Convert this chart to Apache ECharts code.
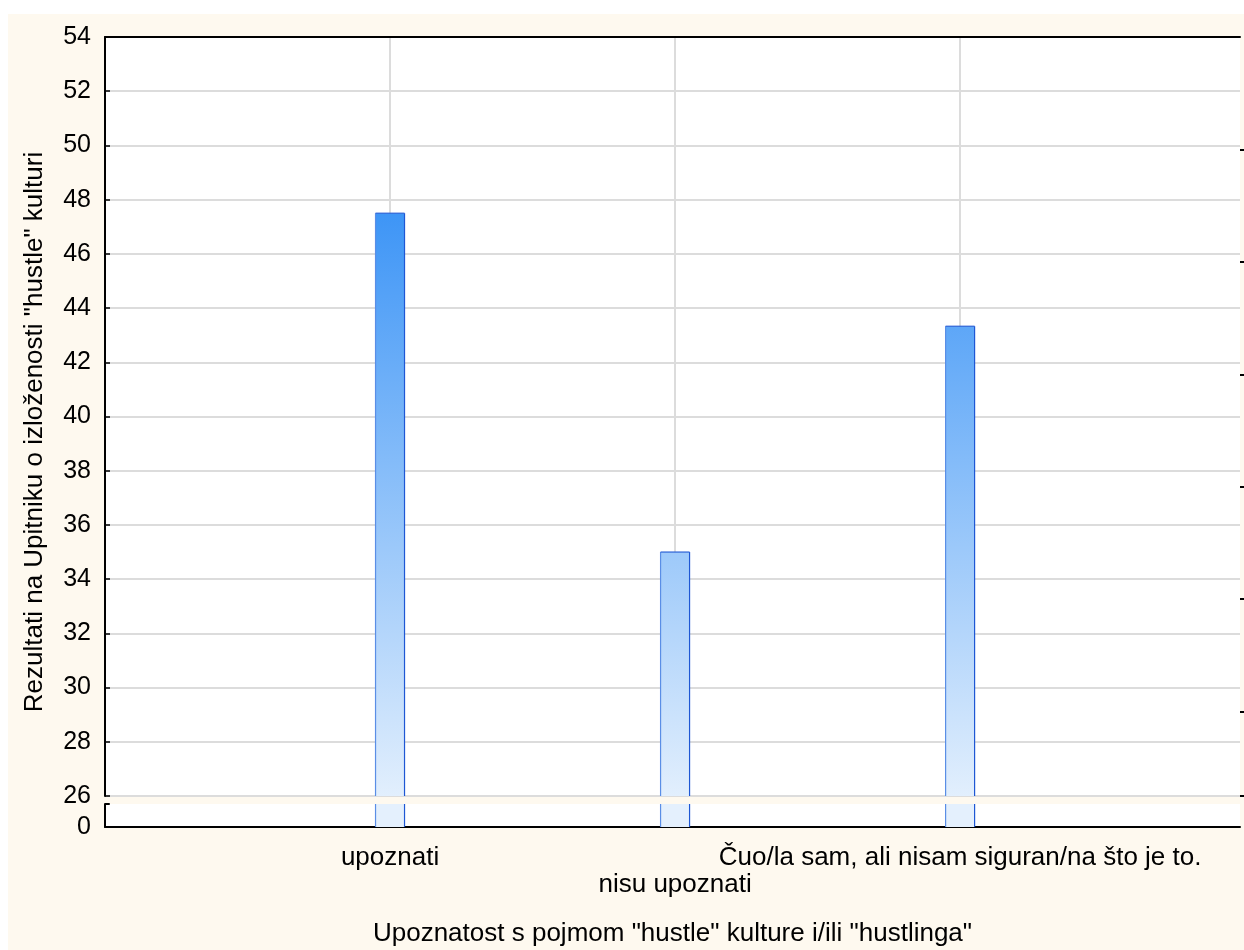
<!DOCTYPE html>
<html><head><meta charset="utf-8">
<script src="https://cdn.jsdelivr.net/npm/echarts@6/dist/echarts.min.js"></script>
<style>
html,body{margin:0;padding:0;background:#fff;width:1244px;height:950px;overflow:hidden;}
#chart{position:absolute;left:8px;top:14px;width:1236px;height:936px;}
</style></head><body><div id="chart"></div>
<script>
// ---- data ----
const categories = ['upoznati', 'nisu upoznati', 'Čuo/la sam, ali nisam siguran/na što je to.'];
const values = [47.5, 35.0, 43.33];
const upperMin = 26, upperMax = 54, upperStep = 2;
const lowerMin = 0, lowerMax = 0.85;
const lowerLabels = [0];
const rightTicks = [1, 2, 3, 4, 5, 6, 6.75];
const yAxisTitle = 'Rezultati na Upitniku o izloženosti "hustle" kulturi';
const xAxisTitle = 'Upoznatost s pojmom "hustle" kulture i/ili "hustlinga"';

// ---- layout ----
const FONT = "'Liberation Sans', Arial, sans-serif";
const FS = 25, FS2 = 26;
const plotLeft = 97, plotRight = 4;
const upTop = 23, upH = 759, lowTop = 790, lowH = 23;
const xMax = 3.982;
const BAR_HALF = 14.5;

const chart = echarts.init(document.getElementById('chart'), null, {renderer: 'canvas'});
const grad = new echarts.graphic.LinearGradient(0, upTop, 0, lowTop, [
  {offset: 0, color: '#0c7af4'},
  {offset: 1, color: '#e4f0fd'}
], true);
const barData = values.map((v, i) => [i + 1, v]);
const black = {color: '#000', width: 2};
const gridGray = {color: '#dcdcdc', width: 2};
const catLabel = v => categories[Math.round(v) - 1] || '';

function makeRender(baseVal, capVal, drawTop) {
  return function (params, api) {
    const x = api.value(0), v = api.value(1);
    const topVal = Math.min(v, capVal);
    const pTop = api.coord([x, topVal]);
    const pBase = api.coord([x, baseVal]);
    const l = pTop[0] - BAR_HALF, r = pTop[0] + BAR_HALF;
    const children = [
      {type: 'rect', shape: {x: l, y: pTop[1], width: r - l, height: pBase[1] - pTop[1]}, style: {fill: grad}},
      {type: 'line', shape: {x1: l, y1: pTop[1], x2: l, y2: pBase[1]}, style: {stroke: '#5a8ee6', lineWidth: 1.2}},
      {type: 'line', shape: {x1: r, y1: pTop[1], x2: r, y2: pBase[1]}, style: {stroke: '#1e57d4', lineWidth: 1.2}}
    ];
    if (drawTop && v <= capVal) {
      children.push({type: 'line', shape: {x1: l, y1: pTop[1], x2: r, y2: pTop[1]}, style: {stroke: '#2d62d6', lineWidth: 1.2}});
    }
    return {type: 'group', children: children};
  };
}

chart.setOption({
  backgroundColor: '#fef9ef',
  animation: false,
  textStyle: {fontFamily: FONT},
  grid: [
    {left: plotLeft, right: plotRight, top: upTop, height: upH, show: true, backgroundColor: '#fff', borderWidth: 0},
    {left: plotLeft, right: plotRight, top: lowTop, height: lowH, show: true, backgroundColor: '#fff', borderWidth: 0}
  ],
  xAxis: [
    {gridIndex: 0, type: 'value', min: 0, max: xMax, interval: 1, position: 'top',
     axisLine: {show: true, lineStyle: black}, axisTick: {show: false}, axisLabel: {show: false},
     splitLine: {show: true, lineStyle: gridGray, showMinLine: false, showMaxLine: false}},
    {gridIndex: 1, type: 'value', min: 0, max: xMax, interval: 1, position: 'bottom',
     axisLine: {show: true, lineStyle: black},
     axisTick: {show: true, inside: true, length: 5, customValues: [1, 2, 3], lineStyle: black},
     axisLabel: {show: true, customValues: [1, 3], hideOverlap: false, color: '#000', fontSize: FS2, fontFamily: FONT, margin: 18,
       formatter: catLabel},
     splitLine: {show: false},
     name: xAxisTitle, nameLocation: 'middle', nameGap: 94,
     nameTextStyle: {color: '#000', fontSize: FS2, fontFamily: FONT}},
    {gridIndex: 1, type: 'value', min: 0, max: xMax, interval: 1, position: 'bottom', offset: 0,
     axisLine: {show: false}, axisTick: {show: false}, splitLine: {show: false},
     axisLabel: {show: true, customValues: [2], hideOverlap: false, color: '#000', fontSize: FS2, fontFamily: FONT, margin: 45,
       formatter: catLabel}}
  ],
  yAxis: [
    {gridIndex: 0, type: 'value', min: upperMin, max: upperMax, interval: upperStep, position: 'left',
     axisLine: {show: true, lineStyle: black},
     axisTick: {show: true, inside: true, length: 5, lineStyle: {color: '#000', width: 1.5}},
     axisLabel: {color: '#000', fontSize: FS, fontFamily: FONT, margin: 14},
     splitLine: {show: true, lineStyle: gridGray, showMaxLine: false}},
    {gridIndex: 0, type: 'value', min: 0, max: 6.75, inverse: true, position: 'right',
     axisLine: {show: false}, axisLabel: {show: false}, splitLine: {show: false},
     axisTick: {show: true, inside: false, length: 4, customValues: rightTicks, lineStyle: black}},
    {gridIndex: 1, type: 'value', min: lowerMin, max: lowerMax, position: 'left',
     axisLine: {show: true, lineStyle: black},
     axisTick: {show: true, inside: true, length: 5, customValues: [lowerMax], lineStyle: {color: '#000', width: 1.5}},
     axisLabel: {customValues: lowerLabels, color: '#000', fontSize: FS, fontFamily: FONT, margin: 14},
     splitLine: {show: false}},
    {gridIndex: 1, type: 'value', min: lowerMin, max: lowerMax, position: 'right',
     axisLine: {show: false}, axisLabel: {show: false}, splitLine: {show: false},
     axisTick: {show: true, inside: false, length: 4, customValues: [lowerMax], lineStyle: black}}
  ],
  series: [
    {type: 'custom', xAxisIndex: 0, yAxisIndex: 0, data: barData, clip: true, z: 3,
     renderItem: makeRender(upperMin, upperMax, true)},
    {type: 'custom', xAxisIndex: 1, yAxisIndex: 2, data: barData, clip: true, z: 3,
     renderItem: makeRender(lowerMin, lowerMax, false)}
  ],
  graphic: [
    {type: 'text', x: 27, y: 418, rotation: Math.PI / 2, z: 10,
     style: {text: yAxisTitle, fill: '#000', fontSize: FS2, fontFamily: FONT, align: 'center', verticalAlign: 'middle'}}
  ]
});
</script></body></html>
